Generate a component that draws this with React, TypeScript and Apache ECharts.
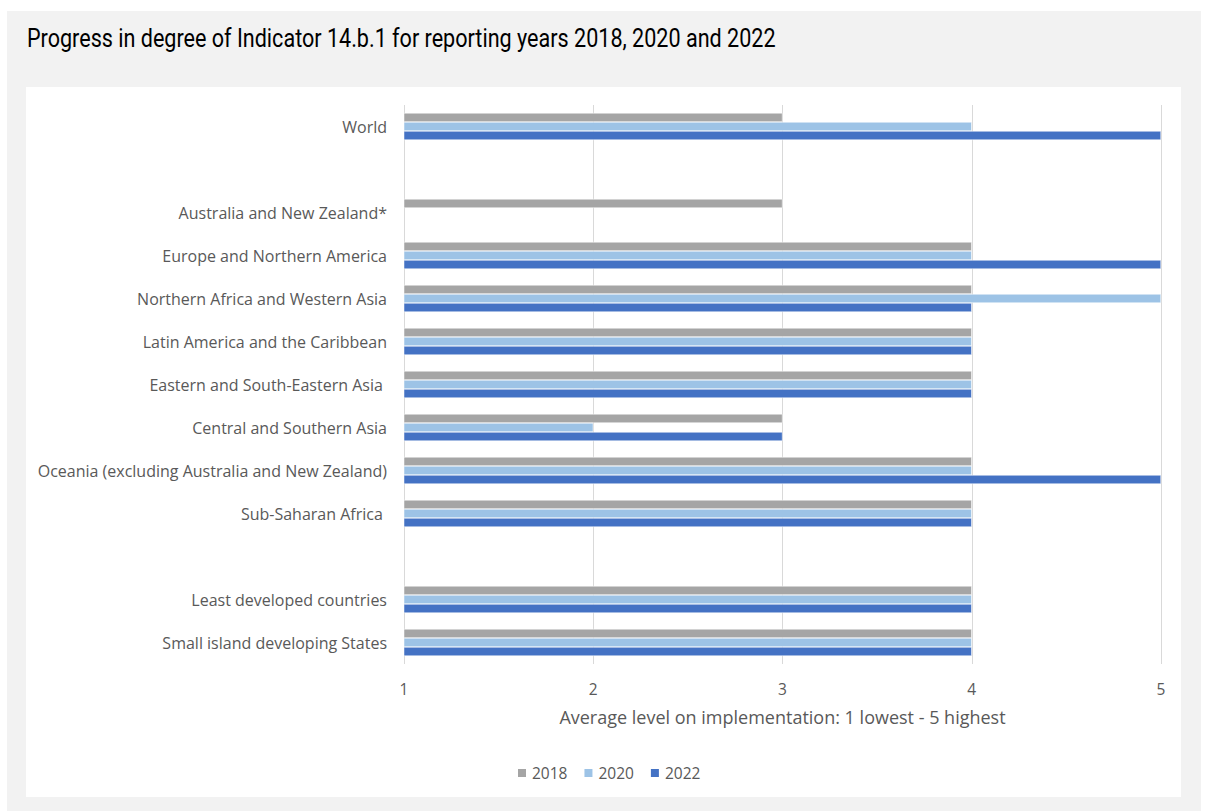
import React, { useEffect, useRef } from "react";
import * as echarts from "echarts";

const categories = [
  "World",
  "",
  "Australia and New Zealand*",
  "Europe and Northern America",
  "Northern Africa and Western Asia",
  "Latin America and the Caribbean",
  "Eastern and South-Eastern Asia ",
  "Central and Southern Asia",
  "Oceania (excluding Australia and New Zealand)",
  "Sub-Saharan Africa ",
  " ",
  "Least developed countries",
  "Small island developing States",
];
const values2018 = [3, null, 3, 4, 4, 4, 4, 3, 4, 4, null, 4, 4];
const values2020 = [4, null, null, 4, 5, 4, 4, 2, 4, 4, null, 4, 4];
const values2022 = [5, null, null, 5, 4, 4, 4, 3, 5, 4, null, 4, 4];
const seriesNames = ["2018", "2020", "2022"];
const colors = ["#a5a5a5", "#9dc3e6", "#4472c4"];
const titleText = "Progress in degree of Indicator 14.b.1 for reporting years 2018, 2020 and 2022";
const axisName = "Average level on implementation: 1 lowest - 5 highest";

const FONT = "'Open Sans', sans-serif";

export default function App() {
  const ref = useRef<HTMLDivElement>(null);
  useEffect(() => {
    if (!ref.current) return;
    const chart = echarts.init(ref.current, null, { renderer: "svg" });
    const data = [values2018, values2020, values2022];
    chart.setOption({
      animation: false,
      backgroundColor: "#ffffff",
      graphic: [
        { type: "rect", z: -10, shape: { x: 7, y: 11, width: 1194, height: 800 }, style: { fill: "#f2f2f2" } },
        { type: "rect", z: -9, shape: { x: 26, y: 87, width: 1155, height: 710 }, style: { fill: "#ffffff" } },
        {
          type: "text",
          x: 27,
          y: 38.5,
          scaleX: 0.83,
          style: {
            text: titleText,
            fill: "#000000",
            font: "26px Roboto, 'Liberation Sans', sans-serif",
            verticalAlign: "middle",
          },
        },
      ],
      legend: {
        bottom: 30,
        left: 516,
        padding: 0,
        itemWidth: 10,
        itemHeight: 10,
        itemGap: 15,
        icon: "rect",
        textStyle: { color: "#595959", fontSize: 15.5, fontFamily: FONT },
        data: seriesNames,
      },
      grid: { left: 404, right: 48, top: 105, bottom: 147 },
      xAxis: {
        type: "value",
        min: 1,
        max: 5,
        interval: 1,
        axisLine: { show: false },
        axisTick: { show: false },
        splitLine: { show: true, lineStyle: { color: "#d9d9d9", width: 1 } },
        axisLabel: { color: "#595959", fontSize: 15.5, margin: 17, fontFamily: FONT },
        name: axisName,
        nameLocation: "middle",
        nameGap: 44,
        nameTextStyle: { color: "#595959", fontSize: 18, fontFamily: FONT },
      },
      yAxis: {
        type: "category",
        inverse: true,
        data: categories,
        axisLine: { show: false },
        axisTick: { show: false },
        axisLabel: { color: "#595959", fontSize: 16, margin: 17, fontFamily: FONT },
      },
      series: seriesNames.map((n, i) => ({
        name: n,
        type: "bar",
        data: data[i],
        barGap: "0%",
        barCategoryGap: "37%",
        clip: true,
        itemStyle: { color: colors[i], borderColor: "#ffffff", borderWidth: 0.5 },
      })),
    });
    return () => chart.dispose();
  }, []);
  return (
    <div
      ref={ref}
      style={{ position: "absolute", left: 0, top: 0, width: 1209, height: 811 }}
    />
  );
}
